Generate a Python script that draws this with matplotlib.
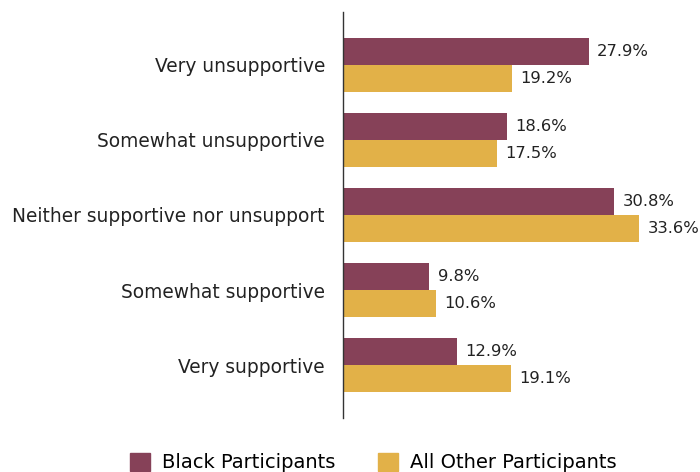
import numpy as np
import matplotlib.pyplot as plt
from matplotlib.patches import Patch

categories = ["Very unsupportive", "Somewhat unsupportive",
              "Neither supportive nor unsupport", "Somewhat supportive",
              "Very supportive"]
black_vals = [27.9, 18.6, 30.8, 9.8, 12.9]
other_vals = [19.2, 17.5, 33.6, 10.6, 19.1]
series_names = ["Black Participants", "All Other Participants"]

PURPLE = "#864158"
GOLD = "#E2B148"

plt.rcParams['font.family'] = ['DejaVu Sans']

fig = plt.figure(figsize=(7, 4.72), dpi=100)
ax = fig.add_axes([343 / 700, 1 - 418 / 472, 347 / 700, 406 / 472])

y = np.arange(len(categories))
h = 0.36
ax.barh(y - h / 2, black_vals, height=h, color=PURPLE)
ax.barh(y + h / 2, other_vals, height=h, color=GOLD)

for yi, v in zip(y, black_vals):
    ax.annotate(f"{v}%", (v, yi - h / 2), xytext=(6, 0), textcoords="offset points",
                va="center", ha="left", fontsize=11.8, color="#222222")
for yi, v in zip(y, other_vals):
    ax.annotate(f"{v}%", (v, yi + h / 2), xytext=(6, 0), textcoords="offset points",
                va="center", ha="left", fontsize=11.8, color="#222222")

ax.set_yticks(y)
ax.set_yticklabels(categories, fontsize=13.4, color="#222222")
ax.tick_params(axis="y", length=0, pad=13)
ax.set_xticks([])
ax.set_xlim(0, 39.4)
ax.set_ylim(4.7, -0.7)
for s in ["top", "right", "bottom"]:
    ax.spines[s].set_visible(False)
ax.spines["left"].set_color("#333333")
ax.spines["left"].set_linewidth(1)

handles = [Patch(color=PURPLE), Patch(color=GOLD)]
fig.legend(handles, series_names, loc="lower center", bbox_to_anchor=(0.533, -0.038),
           ncol=2, frameon=False, fontsize=14, handlelength=1.05, handleheight=1.05,
           columnspacing=2.2, handletextpad=0.6)

fig.savefig("out.png", dpi=100)
